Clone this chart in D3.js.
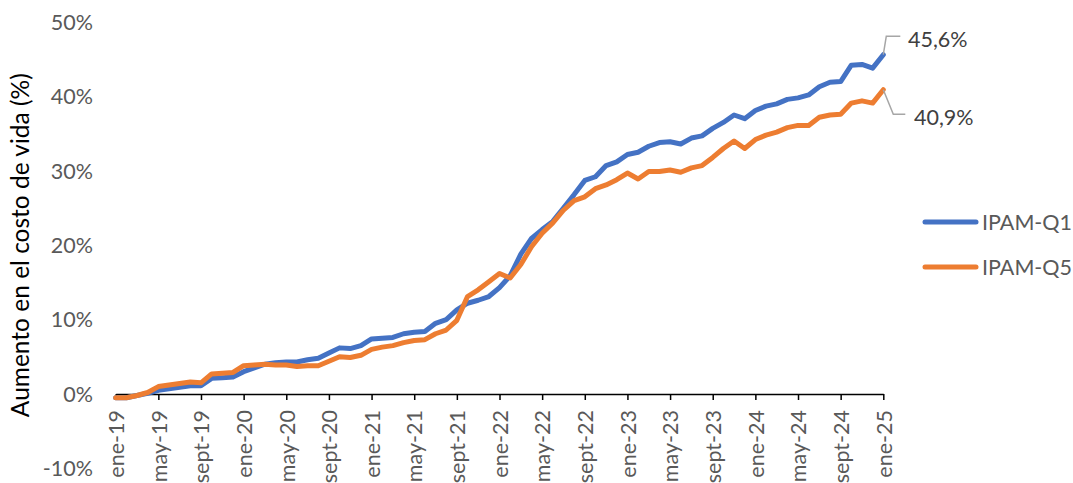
<!DOCTYPE html>
<html><head><meta charset="utf-8">
<script src="https://cdn.jsdelivr.net/npm/d3@7/dist/d3.min.js"></script>
<style>
html,body{margin:0;padding:0;background:#fff;}
svg{display:block;font-family:Lato,"Open Sans",sans-serif;}
</style></head>
<body>
<svg id="chart" width="1073" height="483"></svg>
<script>
const monthNames = ["ene","feb","mar","abr","may","jun","jul","ago","sept","oct","nov","dic"];
const months = [];
for (let y = 19; y <= 25; y++) for (let m = 0; m < 12; m++) { if (y === 25 && m > 0) break; months.push(monthNames[m] + "-" + y); }

const seriesNames = ["IPAM-Q1", "IPAM-Q5"];
const seriesColors = ["#4472C4", "#ED7D31"];
const q1 = [-0.5,-0.5,-0.2,0.1,0.5,0.7,0.9,1.1,1.1,2.1,2.2,2.3,
  3.0,3.5,4.0,4.2,4.3,4.3,4.6,4.8,5.5,6.2,6.1,6.5,
  7.4,7.5,7.6,8.1,8.3,8.4,9.5,10.0,11.3,12.2,12.6,13.1,
  14.3,15.9,18.8,20.9,22.1,23.2,25.0,26.8,28.7,29.2,30.7,31.2,
  32.2,32.5,33.3,33.8,33.9,33.6,34.4,34.7,35.7,36.5,37.5,37.0,
  38.1,38.7,39.0,39.6,39.8,40.2,41.3,41.9,42.0,44.2,44.3,43.8,
  45.6];
const q5 = [-0.5,-0.5,-0.2,0.2,1.0,1.2,1.4,1.6,1.5,2.7,2.8,2.9,
  3.8,3.9,4.0,3.9,3.9,3.7,3.8,3.8,4.4,5.0,4.9,5.2,
  6.0,6.3,6.5,6.9,7.2,7.3,8.1,8.6,9.9,13.1,14.0,15.1,
  16.2,15.6,17.4,19.8,21.6,23.0,24.7,26.0,26.5,27.6,28.1,28.8,
  29.7,28.9,29.9,29.9,30.1,29.8,30.4,30.7,31.8,33.0,34.0,33.0,
  34.2,34.8,35.2,35.8,36.1,36.1,37.2,37.5,37.6,39.1,39.4,39.1,
  40.9];
const endLabels = ["45,6%", "40,9%"];
const yTicks = [-10,0,10,20,30,40,50];
const yTickLabels = ["-10%","0%","10%","20%","30%","40%","50%"];

const svg = d3.select("#chart");
const x = d3.scaleLinear().domain([0, months.length - 1]).range([115.7, 883.3]);
const y = d3.scaleLinear().domain([-10, 50]).range([468.4, 22]);

// y tick labels
svg.append("g").selectAll("text").data(yTicks).join("text")
  .attr("x", 93).attr("y", d => y(d)).attr("dy", "0.36em")
  .attr("text-anchor", "end").attr("fill", "#595959").attr("font-size", 21.5)
  .text((d,i) => yTickLabels[i]);

// y title
svg.append("text")
  .attr("transform", `translate(28.5,${(y(50)+y(-10))/2}) rotate(-90)`)
  .attr("text-anchor", "middle").attr("fill", "#000").attr("font-size", 24.5)
  .text("Aumento en el costo de vida (%)");

// x axis
const tickIdx = d3.range(0, months.length, 4);
const xAxis = d3.axisBottom(x).tickValues(tickIdx).tickFormat(i => months[i]).tickSize(6).tickSizeOuter(0);
const gx = svg.append("g").attr("transform", `translate(0,${y(0)})`).call(xAxis);
gx.select(".domain").attr("stroke", "#000").attr("stroke-width", 1.5);
gx.selectAll(".tick line").attr("stroke", "#000").attr("stroke-width", 1.5);
gx.selectAll(".tick text")
  .attr("font-family", "Lato, sans-serif").attr("font-size", 21.5).attr("fill", "#595959")
  .attr("transform", "rotate(-90)").attr("text-anchor", "end")
  .attr("x", -16).attr("y", 0).attr("dy", "0.36em");

// lines
const line = d3.line().x((d,i) => x(i)).y(d => y(d));
[q1, q5].forEach((s, k) => {
  svg.append("path").datum(s).attr("d", line)
    .attr("fill", "none").attr("stroke", seriesColors[k]).attr("stroke-width", 5)
    .attr("stroke-linejoin", "round").attr("stroke-linecap", "round");
});

// leader lines & end labels
const last = months.length - 1;
const lead = [
  {s: q1, pts: [[0,0],[3,-18.5],[17,-18.5]], tx: 908, ty: -15.5},
  {s: q5, pts: [[0,0],[10,24.5],[22,24.5]], tx: 914, ty: 27.5}
];
lead.forEach((L, k) => {
  const x0 = x(last), y0 = y(L.s[last]);
  svg.append("path").attr("d", d3.line()(L.pts.map(p => [x0 + p[0], y0 + p[1]])))
    .attr("fill", "none").attr("stroke", "#A6A6A6").attr("stroke-width", 1.5);
  svg.append("text").attr("x", L.tx).attr("y", y0 + L.ty).attr("dy", "0.36em")
    .attr("font-size", 21.5).attr("fill", "#404040").text(endLabels[k]);
});

// legend
const lg = svg.append("g");
seriesNames.forEach((n, k) => {
  const ly = 222 + k * 45;
  lg.append("line").attr("x1", 925).attr("x2", 976).attr("y1", ly).attr("y2", ly)
    .attr("stroke", seriesColors[k]).attr("stroke-width", 5).attr("stroke-linecap", "round");
  lg.append("text").attr("x", 982).attr("y", ly).attr("dy", "0.36em")
    .attr("font-size", 21.5).attr("fill", "#595959").text(n);
});
</script>
</body></html>
